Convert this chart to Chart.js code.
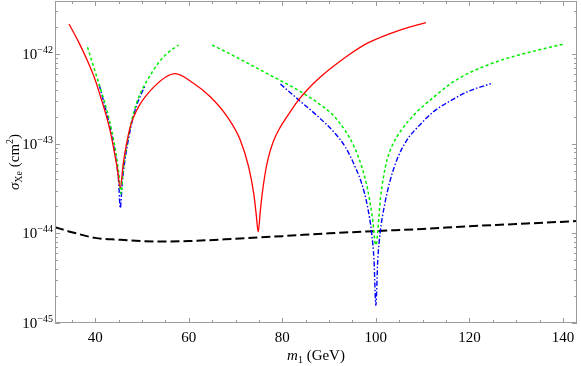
<!DOCTYPE html>
<html><head><meta charset="utf-8">
<script src="https://cdn.jsdelivr.net/npm/chart.js@4/dist/chart.umd.min.js"></script>
<style>html,body{margin:0;padding:0;background:#fff}</style>
</head><body>
<canvas id="c" width="581" height="366"></canvas>
<script>
// ---- data ----
const redM = [34.4, 36.3, 38.2, 40.0, 41.1, 42.2, 43.2, 43.9, 44.7, 45.35, 46.0, 46.7, 47.5, 48.4, 49.4, 50.8, 52.5, 55.0, 57.1, 61.0, 64.6, 68.2, 71.0, 72.8, 73.9, 74.4, 74.85, 75.3, 75.7, 76.5, 77.3, 78.2, 79.5, 81.0, 83.2, 85.5, 88.2, 91.0, 94.5, 98.2, 105.3, 110.7];
const redS = [2.16e-42, 1.41e-42, 8.71e-43, 5.13e-43, 3.39e-43, 2.19e-43, 1.38e-43, 9.12e-44, 5.37e-44, 3.24e-44, 6.03e-44, 1.00e-43, 1.55e-43, 2.09e-43, 2.66e-43, 3.39e-43, 4.27e-43, 5.50e-43, 6.03e-43, 4.71e-43, 3.33e-43, 2.00e-43, 1.10e-43, 5.50e-44, 2.75e-44, 1.66e-44, 1.04e-44, 1.78e-44, 2.75e-44, 5.25e-44, 7.94e-44, 1.10e-43, 1.51e-43, 2.00e-43, 2.95e-43, 4.07e-43, 5.56e-43, 7.33e-43, 1.00e-42, 1.32e-42, 1.86e-42, 2.24e-42];

const greenAM = [38.35, 40.0, 41.5, 42.7, 43.7, 44.5, 45.1, 45.5, 46.0, 46.7, 47.4, 48.3, 49.3, 50.4, 51.5, 53.5, 55.7, 57.84];
const greenAS = [1.19e-42, 6.31e-43, 3.55e-43, 2.14e-43, 1.26e-43, 7.41e-44, 4.37e-44, 2.78e-44, 5.25e-44, 9.33e-44, 1.48e-43, 2.29e-43, 3.31e-43, 4.37e-43, 5.50e-43, 7.94e-43, 1.05e-42, 1.26e-42];
const greenBM = [65.0, 69.6, 76.8, 83.9, 88.0, 91.0, 93.5, 95.5, 97.0, 98.2, 99.2, 100.0, 101.0, 101.6, 102.4, 103.5, 105.3, 108.5, 112.4, 116.0, 119.6, 126.7, 133.9, 140.3];
const greenBS = [1.26e-42, 9.55e-43, 6.03e-43, 3.80e-43, 2.75e-43, 2.04e-43, 1.38e-43, 8.91e-44, 5.50e-44, 3.16e-44, 1.58e-44, 7.41e-45, 2.51e-44, 4.17e-44, 6.61e-44, 9.55e-44, 1.38e-43, 2.19e-43, 3.31e-43, 4.68e-43, 6.03e-43, 8.51e-43, 1.08e-42, 1.30e-42];

const blueAM = [40.86, 42.0, 43.0, 43.8, 44.5, 45.0, 45.35, 45.8, 46.4, 47.1, 47.9, 48.8, 49.8, 50.7];
const blueAS = [4.51e-43, 2.69e-43, 1.66e-43, 1.05e-43, 6.31e-44, 3.80e-44, 1.91e-44, 3.80e-44, 6.76e-44, 1.12e-43, 1.78e-43, 2.63e-43, 3.55e-43, 4.47e-43];
const blueBM = [79.6, 83.9, 87.5, 91.0, 93.5, 95.5, 97.0, 98.2, 99.1, 99.6, 100.0, 100.4, 100.9, 101.8, 103.0, 104.5, 106.5, 109.2, 112.4, 116.0, 119.6, 124.6];
const blueBS = [4.62e-43, 2.95e-43, 2.04e-43, 1.35e-43, 9.12e-44, 5.62e-44, 3.55e-44, 2.00e-44, 1.00e-44, 5.01e-45, 1.58e-45, 5.01e-45, 1.00e-44, 2.00e-44, 3.80e-44, 6.61e-44, 1.07e-43, 1.58e-43, 2.29e-43, 3.02e-43, 3.80e-43, 4.68e-43];

const blackM = [31.4, 35, 40, 45, 50, 55, 60, 70, 80, 90, 100, 110, 120, 130, 143];
const blackS = [1.17e-44, 1.03e-44, 8.9e-45, 8.5e-45, 8.2e-45, 8.1e-45, 8.2e-45, 8.7e-45, 9.3e-45, 1.00e-44, 1.06e-44, 1.12e-44, 1.20e-44, 1.27e-44, 1.37e-44];

const xTicks = [40, 60, 80, 100, 120, 140];
const yTicks = [1e-45, 1e-44, 1e-43, 1e-42];
const yTickExp = ['\u221245', '\u221244', '\u221243', '\u221242'];

// ---- chart ----
const pts = (m, s) => m.map((v, i) => ({x: v, y: s[i]}));
const SERIF = "'Liberation Serif', 'DejaVu Serif', serif";

const framePlugin = {
  id: 'frame',
  afterDraw(chart) {
    const {ctx, chartArea: a, scales: {x, y}} = chart;
    ctx.save();
    ctx.strokeStyle = '#9a9a9a';
    ctx.lineWidth = 1;
    ctx.strokeRect(a.left + 0.5, a.top + 0.5, a.right - a.left - 1, a.bottom - a.top - 1);
    ctx.beginPath();
    for (let v = Math.ceil(x.min / 5) * 5; v <= x.max; v += 5) {
      const px = Math.round(x.getPixelForValue(v)) + 0.5;
      const len = xTicks.includes(v) ? 5 : 3;
      ctx.moveTo(px, a.bottom); ctx.lineTo(px, a.bottom - len);
      ctx.moveTo(px, a.top); ctx.lineTo(px, a.top + len);
    }
    for (let d = -46; d <= -41; d++) {
      for (let k = 1; k <= 9; k++) {
        const v = k * Math.pow(10, d);
        if (v < y.min * 0.999 || v > y.max * 1.001) continue;
        const py = Math.round(y.getPixelForValue(v)) + 0.5;
        const len = k === 1 ? 5 : 3;
        ctx.moveTo(a.left, py); ctx.lineTo(a.left + len, py);
        ctx.moveTo(a.right, py); ctx.lineTo(a.right - len, py);
      }
    }
    ctx.stroke();
    ctx.fillStyle = '#000';
    ctx.textBaseline = 'alphabetic';
    yTicks.forEach((v, i) => {
      const py = y.getPixelForValue(v);
      ctx.font = '10px ' + SERIF;
      const ew = ctx.measureText(yTickExp[i]).width;
      ctx.textAlign = 'left';
      const right = a.left - 2;
      ctx.fillText(yTickExp[i], right - ew, py - 1);
      ctx.font = '15px ' + SERIF;
      ctx.textAlign = 'right';
      ctx.fillText('10', right - ew, py + 5);
    });
    const parts = (list) => {
      let w = 0;
      list.forEach(p => { ctx.font = p.f; p.w = ctx.measureText(p.t).width; w += p.w; });
      return w;
    };
    const xt = [
      {t: 'm', f: 'italic 15px ' + SERIF, dy: 0},
      {t: '1', f: '10px ' + SERIF, dy: 3},
      {t: ' (GeV)', f: '15px ' + SERIF, dy: 0}
    ];
    let w = parts(xt);
    let cx = (a.left + a.right) / 2 - w / 2;
    ctx.textAlign = 'left';
    xt.forEach(p => { ctx.font = p.f; ctx.fillText(p.t, cx, 360 + p.dy); cx += p.w; });
    const yt = [
      {t: '\u03c3', f: 'italic 15px ' + SERIF, dy: 0},
      {t: 'Xe', f: '10px ' + SERIF, dy: 3},
      {t: ' (cm', f: '15px ' + SERIF, dy: 0},
      {t: '2', f: '10px ' + SERIF, dy: -6},
      {t: ')', f: '15px ' + SERIF, dy: 0}
    ];
    w = parts(yt);
    ctx.translate(19, 162);
    ctx.rotate(-Math.PI / 2);
    let cy = -w / 2;
    yt.forEach(p => { ctx.font = p.f; ctx.fillText(p.t, cy, p.dy); cy += p.w; });
    ctx.restore();
  }
};

const ds = (label, data, color, width, dash) => ({
  label, data, borderColor: color, borderWidth: width, borderDash: dash,
  pointRadius: 0, fill: false, cubicInterpolationMode: 'monotone', borderCapStyle: 'butt'
});

new Chart(document.getElementById('c'), {
  type: 'line',
  data: {
    datasets: [
      ds('red', pts(redM, redS), '#ff0000', 1.3, []),
      ds('green low', pts(greenAM, greenAS), '#00ee00', 1.5, [3, 2.5]),
      ds('green high', pts(greenBM, greenBS), '#00ee00', 1.5, [3, 2.5]),
      ds('blue low', pts(blueAM, blueAS), '#0000ff', 1.4, [5, 2, 1.5, 2]),
      ds('blue high', pts(blueBM, blueBS), '#0000ff', 1.4, [5, 2, 1.5, 2]),
      ds('XENON bound', pts(blackM, blackS), '#000000', 2, [9, 4])
    ]
  },
  options: {
    responsive: false,
    devicePixelRatio: 1,
    animation: false,
    layout: {padding: {top: 1, right: 4, left: 0, bottom: 0}},
    plugins: {legend: {display: false}, tooltip: {enabled: false}},
    scales: {
      x: {
        type: 'linear', min: 31.4, max: 143,
        afterBuildTicks: s => { s.ticks = xTicks.map(v => ({value: v})); },
        afterFit: s => { s.height = 43; },
        grid: {display: false, drawTicks: false},
        border: {display: false},
        ticks: {font: {family: SERIF, size: 15}, color: '#000', padding: 6, maxRotation: 0, autoSkip: false}
      },
      y: {
        type: 'logarithmic', min: 1e-45, max: 3.9e-42,
        afterBuildTicks: s => { s.ticks = yTicks.map(v => ({value: v})); },
        afterFit: s => { s.width = 55; },
        grid: {display: false, drawTicks: false},
        border: {display: false},
        ticks: {display: false}
      }
    }
  },
  plugins: [framePlugin]
});
</script>
</body></html>
